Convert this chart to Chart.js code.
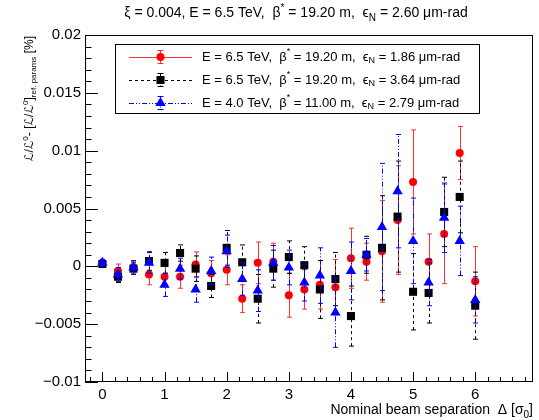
<!DOCTYPE html>
<html>
<head>
<meta charset="utf-8">
<script src="https://cdn.jsdelivr.net/npm/chart.js@4/dist/chart.umd.min.js"></script>
<style>
html, body { margin: 0; padding: 0; background: #fff; }
</style>
</head>
<body>
<canvas id="myChart" width="539" height="420"></canvas>
<script>
// nominal beam separation [sigma_0]
const separation = [0, 0.25, 0.5, 0.75, 1, 1.25, 1.5, 1.75, 2, 2.25, 2.5, 2.75, 3,
  3.25, 3.5, 3.75, 4, 4.25, 4.5, 4.75, 5, 5.25, 5.5, 5.75, 6];

// E = 6.5 TeV, beta* = 19.20 m, eps = 1.86
const redVals = [0.0003, -0.0004, -0.0001, -0.0007, -0.0009, -0.0009, 0.00015, -0.0006, -0.0003,
  -0.0028, 0.0003, 0.0004, -0.0025, -0.002, -0.0016, -0.0018, 0.0007, 0.0004, 0.0013, 0.004,
  0.0073, 0.0004, 0.0028, 0.0098, -0.0013];
const redErrs = [0.0003, 0.0006, 0.0005, 0.0009, 0.0009, 0.001, 0.0011, 0.0011, 0.0013,
  0.0012, 0.0018, 0.0016, 0.0019, 0.0017, 0.0021, 0.0024, 0.0026, 0.0016, 0.0044, 0.0047,
  0.0045, 0.0024, 0.0043, 0.0023, 0.003];

// E = 6.5 TeV, beta* = 19.20 m, eps = 3.64
const blackVals = [0.0002, -0.0009, -0.0002, 0.00046, 0.0003, 0.00115, -0.0002, -0.0017, 0.0016,
  0.00035, -0.0028, -0.0002, 0.0008, 0.0001, -0.002, -0.0011, -0.0043, 0.001, 0.0016, 0.0043,
  -0.0022, -0.0023, 0.0047, 0.006, -0.0034];
const blackErrs = [0.0003, 0.0005, 0.0005, 0.0008, 0.0009, 0.0007, 0.0011, 0.001, 0.0015,
  0.0015, 0.0021, 0.0016, 0.0014, 0.0016, 0.0025, 0.0023, 0.0026, 0.0016, 0.0045, 0.0048,
  0.0033, 0.0026, 0.003, 0.0031, 0.0029];

// E = 4.0 TeV, beta* = 11.00 m, eps = 2.79
const blueVals = [0.0003, -0.0007, -0.0001, 0.0003, -0.0016, -0.0002, -0.002, -0.0004, 0.0013,
  -0.0011, -0.0021, 0.0003, -0.0001, -0.0014, -0.0008, -0.004, -0.0004, 0.001, 0.0034, 0.0065,
  0.0022, -0.0014, 0.0042, 0.0022, -0.0029];
const blueErrs = [0.0003, 0.0006, 0.0006, 0.0009, 0.001, 0.0009, 0.0011, 0.0012, 0.0014,
  0.0014, 0.0018, 0.0015, 0.0015, 0.0016, 0.0024, 0.003, 0.0025, 0.0014, 0.0055, 0.0049,
  0.0037, 0.002, 0.003, 0.003, 0.002];

const xTicks = [0, 1, 2, 3, 4, 5, 6];

// rich text pieces: [text, 'sup' | 'sub' | undefined]
const titleText = [["\u03BE = 0.004, E = 6.5 TeV,  \u03B2"], ["*", "sup"], [" = 19.20 m,  \u03F5"], ["N", "sub"], [" = 2.60 \u03BCm-rad"]];
const yTitle = [["\u2112/\u2112"], ["0", "sup"], ["- [\u2112/\u2112"], ["0", "sup"], ["]"], ["ref. params", "sub"], [" [%]"]];
const xTitle = [["Nominal beam separation  \u0394 [\u03C3"], ["0", "sub"], ["]"]];
const legendText = [
  [["E = 6.5 TeV,  \u03B2"], ["*", "sup"], [" = 19.20 m,  \u03F5"], ["N", "sub"], [" = 1.86 \u03BCm-rad"]],
  [["E = 6.5 TeV,  \u03B2"], ["*", "sup"], [" = 19.20 m,  \u03F5"], ["N", "sub"], [" = 3.64 \u03BCm-rad"]],
  [["E = 4.0 TeV,  \u03B2"], ["*", "sup"], [" = 11.00 m,  \u03F5"], ["N", "sub"], [" = 2.79 \u03BCm-rad"]]
];

const FONT = "'Liberation Sans', 'DejaVu Sans', Arial, sans-serif";
Chart.defaults.font.family = FONT;
Chart.defaults.color = "#000";

function toPoints(vals) {
  return separation.map((s, i) => ({ x: s, y: vals[i] }));
}

function drawRich(ctx, parts, x, y, size, align) {
  const fontOf = (p) => (p[1] ? Math.round(size * 0.7) : size) + "px " + FONT;
  let w = 0;
  parts.forEach((p) => { ctx.font = fontOf(p); w += ctx.measureText(p[0]).width; });
  let cx = align === "center" ? x - w / 2 : align === "right" ? x - w : x;
  ctx.textAlign = "left";
  parts.forEach((p) => {
    ctx.font = fontOf(p);
    const dy = p[1] === "sup" ? -0.42 * size : p[1] === "sub" ? 0.28 * size : 0;
    ctx.fillText(p[0], cx, y + dy);
    cx += ctx.measureText(p[0]).width;
  });
}

function errorLine(ctx, px, y1, y2, cap) {
  ctx.beginPath();
  ctx.moveTo(px, y1);
  ctx.lineTo(px, y2);
  ctx.stroke();
  ctx.save();
  ctx.setLineDash([]);
  ctx.beginPath();
  ctx.moveTo(px - cap, y1); ctx.lineTo(px + cap, y1);
  ctx.moveTo(px - cap, y2); ctx.lineTo(px + cap, y2);
  ctx.stroke();
  ctx.restore();
}

const errorBars = {
  id: "errorBars",
  beforeDatasetDraw(chart, args) {
    const ds = chart.data.datasets[args.index];
    const { x, y } = chart.scales;
    const ctx = chart.ctx;
    const a = chart.chartArea;
    ctx.save();
    ctx.beginPath();
    ctx.rect(a.left, a.top, a.right - a.left, a.bottom - a.top);
    ctx.clip();
    ctx.strokeStyle = ds.errColor;
    ctx.lineWidth = 1;
    ctx.setLineDash(ds.errDash);
    ds.data.forEach((p, i) => {
      const px = Math.round(x.getPixelForValue(p.x)) + 0.5;
      const y1 = y.getPixelForValue(p.y - ds.errors[i]);
      const y2 = y.getPixelForValue(p.y + ds.errors[i]);
      errorLine(ctx, px, y1, y2, 2.5);
    });
    ctx.restore();
  }
};

const frameAndText = {
  id: "frameAndText",
  afterDraw(chart) {
    const ctx = chart.ctx;
    const a = chart.chartArea;
    const { x, y } = chart.scales;
    ctx.save();
    ctx.strokeStyle = "#000";
    ctx.lineWidth = 1;
    ctx.strokeRect(a.left + 0.5, a.top + 0.5, a.right - a.left - 1, a.bottom - a.top - 1);

    // ticks inside the frame, left and bottom only
    ctx.beginPath();
    for (let k = -1; k <= 34; k++) {
      const v = k / 5;
      if (v < x.min || v > x.max) continue;
      const px = Math.round(x.getPixelForValue(v)) + 0.5;
      const len = k % 5 === 0 ? 10 : 5;
      ctx.moveTo(px, a.bottom);
      ctx.lineTo(px, a.bottom - len);
    }
    for (let k = -10; k <= 20; k++) {
      const v = k / 1000;
      const py = Math.round(y.getPixelForValue(v)) + 0.5;
      const len = k % 5 === 0 ? 13 : 6.5;
      ctx.moveTo(a.left, py);
      ctx.lineTo(a.left + len, py);
    }
    ctx.stroke();

    ctx.fillStyle = "#000";
    ctx.textBaseline = "alphabetic";
    drawRich(ctx, titleText, 296, 17, 14, "center");
    drawRich(ctx, xTitle, 533, 414, 14, "right");

    ctx.save();
    ctx.translate(33, 36);
    ctx.rotate(-Math.PI / 2);
    drawRich(ctx, yTitle, 0, 0, 12, "right");
    ctx.restore();

    // legend
    ctx.strokeRect(115.5, 44.5, 364, 69);
    const rows = [57, 80, 103];
    const sets = chart.data.datasets;
    [0, 1, 2].forEach((di, r) => {
      const ds = sets[di];
      const ly = rows[r];
      ctx.save();
      ctx.strokeStyle = ds.errColor;
      ctx.setLineDash(ds.errDash);
      ctx.beginPath();
      ctx.moveTo(129, ly + 0.5);
      ctx.lineTo(192, ly + 0.5);
      ctx.stroke();
      errorLine(ctx, 160.5, ly - 6.5, ly + 6.5, 3);
      ctx.restore();
      ctx.fillStyle = ds.backgroundColor;
      Chart.helpers.drawPoint(ctx, { pointStyle: ds.pointStyle, radius: ds.pointRadius, rotation: 0, borderWidth: 0 }, 160.5, ly);
      ctx.fillStyle = "#000";
      ctx.textBaseline = "middle";
      drawRich(ctx, legendText[r], 202, ly, 13, "left");
    });
    ctx.restore();
  }
};

const data = {
  datasets: [
    {
      label: "E = 6.5 TeV, eps 1.86",
      data: toPoints(redVals),
      errors: redErrs,
      errColor: "rgba(255, 0, 0, 0.8)",
      errDash: [],
      backgroundColor: "#ff0000",
      borderColor: "#ff0000",
      borderWidth: 0,
      pointStyle: "circle",
      pointRadius: 4,
      order: 3
    },
    {
      label: "E = 6.5 TeV, eps 3.64",
      data: toPoints(blackVals),
      errors: blackErrs,
      errColor: "#000000",
      errDash: [3, 3],
      backgroundColor: "#000000",
      borderColor: "#000000",
      borderWidth: 0,
      pointStyle: "rect",
      pointRadius: 5.7,
      order: 2
    },
    {
      label: "E = 4.0 TeV, eps 2.79",
      data: toPoints(blueVals),
      errors: blueErrs,
      errColor: "#0000ff",
      errDash: [5, 2, 1, 2, 1, 2],
      backgroundColor: "#0000ff",
      borderColor: "#0000ff",
      borderWidth: 0,
      pointStyle: "triangle",
      pointRadius: 6,
      order: 1
    }
  ]
};

const config = {
  type: "scatter",
  data,
  options: {
    responsive: false,
    animation: false,
    devicePixelRatio: 1,
    layout: { padding: { top: 35, right: 4, left: 0, bottom: 0 } },
    plugins: {
      legend: { display: false },
      tooltip: { enabled: false },
      title: { display: false }
    },
    scales: {
      x: {
        type: "linear",
        min: -0.28,
        max: 6.93,
        grid: { display: false, drawTicks: false },
        border: { display: false },
        ticks: {
          stepSize: 1,
          includeBounds: false,
          autoSkip: false,
          maxRotation: 0,
          padding: 4,
          font: { size: 15 },
          callback: function (val) {
            return xTicks.includes(val) ? String(val) : "";
          }
        },
        afterFit: function (scale) { scale.height = 38; }
      },
      y: {
        type: "linear",
        min: -0.01,
        max: 0.02,
        grid: { display: false, drawTicks: false },
        border: { display: false },
        ticks: {
          stepSize: 0.005,
          autoSkip: false,
          padding: 4,
          font: { size: 15 },
          callback: function (val) {
            if (Math.abs(val) < 1e-12) return "0";
            const s = String(Math.round(Math.abs(val) * 1000) / 1000);
            return val < 0 ? "\u2212" + s : s;
          }
        },
        afterFit: function (scale) { scale.width = 85; }
      }
    }
  },
  plugins: [errorBars, frameAndText]
};

const ctx = document.getElementById("myChart").getContext("2d");
new Chart(ctx, config);
</script>
</body>
</html>
